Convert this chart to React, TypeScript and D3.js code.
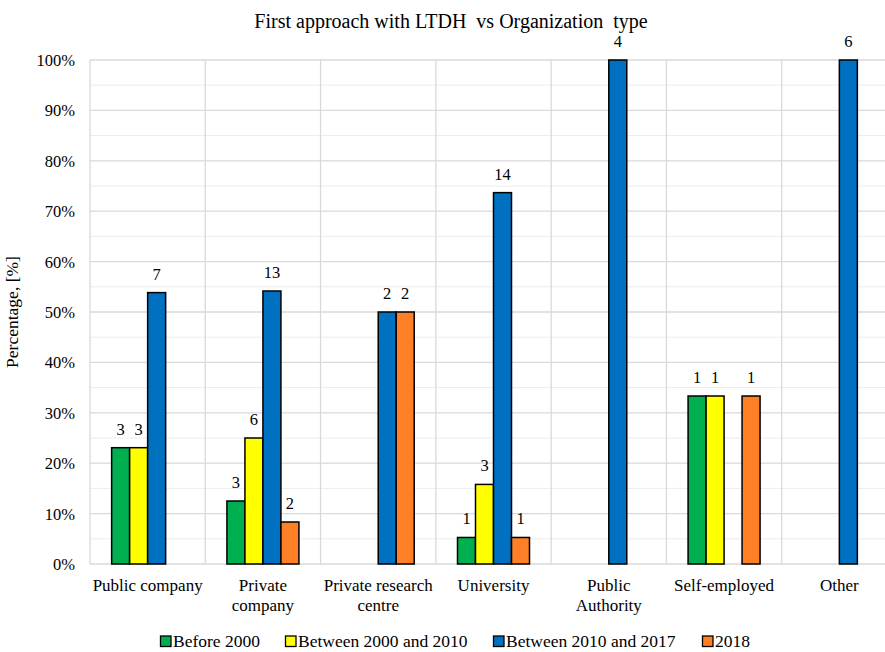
import React from "react";
import * as d3 from "d3";

const categories = ["Public company", "Private company", "Private research centre", "University", "Public Authority", "Self-employed", "Other"];
const categoryLines = [["Public company"], ["Private", "company"], ["Private research", "centre"], ["University"], ["Public", "Authority"], ["Self-employed"], ["Other"]];
const seriesNames = ["Before 2000", "Between 2000 and 2010", "Between 2010 and 2017", "2018"];
const seriesColors = ["#00b050", "#ffff00", "#0070c0", "#ff7f27"];
const counts = [
  [3, 3, 7, 0],
  [3, 6, 13, 2],
  [0, 0, 2, 2],
  [1, 3, 14, 1],
  [0, 0, 4, 0],
  [1, 1, 0, 1],
  [0, 0, 6, 0],
];
const yTicks = [0, 10, 20, 30, 40, 50, 60, 70, 80, 90, 100];

const FONT = "Liberation Serif, DejaVu Serif, serif";

export default function App() {
  const W = 885, H = 652;
  const left = 90, right = 897, top = 60, bottom = 564;
  const x = d3.scaleBand<string>().domain(categories).range([left, right]).paddingInner(0).paddingOuter(0);
  const y = d3.scaleLinear().domain([0, 100]).range([bottom, top]);
  const bw = 18;
  const minor = d3.range(5, 100, 10);
  const fs = 16.5;
  const tf = { fontFamily: FONT, whiteSpace: "pre" as const };

  return (
    <svg width={W} height={H} style={{ display: "block", position: "absolute", left: 0, top: 0, background: "#fff", fontFamily: FONT }}>
      <rect x={0} y={0} width={W} height={H} fill="#fff" />
      <text x={451} y={28} textAnchor="middle" fontSize={20} style={tf}>First approach with LTDH  vs Organization  type</text>
      {minor.map((t) => (
        <line key={"m" + t} x1={left} x2={right} y1={y(t)} y2={y(t)} stroke="#ececec" strokeWidth={1} />
      ))}
      {yTicks.map((t) => (
        <line key={"g" + t} x1={left} x2={right} y1={y(t)} y2={y(t)} stroke="#d9d9d9" strokeWidth={1.3} />
      ))}
      {categories.map((c, i) => (
        <line key={"v" + i} x1={x(c)!} x2={x(c)!} y1={top} y2={bottom} stroke="#d9d9d9" strokeWidth={1.3} />
      ))}
      {yTicks.map((t) => (
        <text key={"t" + t} x={75} y={y(t) + 6} textAnchor="end" fontSize={fs} style={tf}>{t}%</text>
      ))}
      <text transform={`translate(18,${(top + bottom) / 2}) rotate(-90)`} textAnchor="middle" fontSize={17.5} style={tf}>Percentage, [%]</text>
      {categories.map((c, i) => {
        const total = d3.sum(counts[i]);
        const cx = x(c)! + x.bandwidth() / 2;
        const x0 = cx - (bw * 4) / 2;
        return (
          <g key={c}>
            {counts[i].map((n, j) => {
              if (n === 0) return null;
              const v = (n / total) * 100;
              const bx = x0 + j * bw;
              return (
                <g key={j}>
                  <rect x={bx} y={y(v)} width={bw} height={bottom - y(v)} fill={seriesColors[j]} stroke="#000" strokeWidth={1.5} />
                  <text x={bx + bw / 2} y={y(v) - 13} textAnchor="middle" fontSize={fs} style={tf}>{n}</text>
                </g>
              );
            })}
            {categoryLines[i].map((ln, k) => (
              <text key={k} x={cx} y={591 + k * 20} textAnchor="middle" fontSize={17} style={tf}>{ln}</text>
            ))}
          </g>
        );
      })}
      {seriesNames.map((s, j) => {
        const lx = [160, 285, 493, 702][j];
        return (
          <g key={s}>
            <rect x={lx + 0.5} y={636} width={10.5} height={10.5} fill={seriesColors[j]} stroke="#000" strokeWidth={1.3} />
            <text x={lx + 13} y={647} fontSize={17.5} style={tf}>{s}</text>
          </g>
        );
      })}
    </svg>
  );
}
